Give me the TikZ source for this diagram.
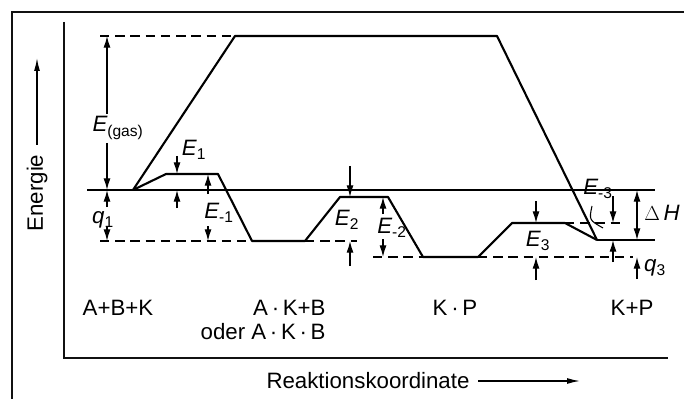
\documentclass[tikz,border=0pt]{standalone}
\usepackage{fontspec}
\setmainfont{Liberation Sans}
\usetikzlibrary{arrows.meta}

\begin{document}
\begin{tikzpicture}[x=0.03cm, y=-0.03cm,
    levelline/.style={line width=1.4pt},
    curve/.style={line width=1.8pt, line join=round},
    guide/.style={line width=1.3pt, dash pattern=on 8pt off 5pt},
    dim/.style={line width=1.1pt, -{Latex[length=10pt,width=6pt]}},
    lbl/.style={inner sep=1pt, font=\fontsize{19}{22}\selectfont}]
    % Define colours
    \definecolor{inkColour}{HTML}{111111}

    % Fix the page size
    \useasboundingbox (0,0) rectangle (684,399);

    % Draw frame and axes
    \draw[inkColour, line width=1.7pt] (12,399) -- (12,12) -- (684,12);
    \draw[inkColour, line width=1.7pt] (64,22) -- (64,358) -- (668,358);

    % Label the axes
    \node[lbl, rotate=90] (energy) at (37,193) {Energie};
    \coordinate (eTail) at (37,145);
    \coordinate (eTip) at (37,58);
    \draw[line width=1.1pt, -{Latex[length=11pt,width=5pt]}] (eTail) -- (eTip);
    \node[lbl] (coord) at (368,381) {Reaktionskoordinate};
    \coordinate (rTail) at (478,381);
    \coordinate (rTip) at (580,381);
    \draw[line width=1.1pt, -{Latex[length=11pt,width=5pt]}] (rTail) -- (rTip);

    % Define coordinates for the uncatalysed path
    \coordinate (S) at (133,190);
    \coordinate (G1) at (235,36);
    \coordinate (G2) at (497,36);
    \coordinate (F) at (597,240);

    % Define coordinates for the catalysed path
    \coordinate (T1a) at (166,174);
    \coordinate (T1b) at (218,174);
    \coordinate (I1a) at (252,241);
    \coordinate (I1b) at (305,241);
    \coordinate (T2a) at (340,197);
    \coordinate (T2b) at (388,197);
    \coordinate (I2a) at (423,257);
    \coordinate (I2b) at (478,257);
    \coordinate (T3a) at (512,223);
    \coordinate (T3b) at (565,223);

    % Draw the reference levels
    \draw[levelline] (87,190) -- (655,190);
    \draw[levelline] (F) -- (655,240);
    \draw[guide] (100,36) -- (G1);
    \draw[guide] (100,241) -- (I1a);
    \draw[guide] (I1b) -- (357,241);
    \draw[guide] (373,257) -- (I2a);
    \draw[guide] (I2b) -- (633,257);
    \draw[guide] (T3b) -- (622,223);

    % Draw both reaction paths
    \draw[curve] (S) -- (G1) -- (G2) -- (F);
    \draw[curve] (S) -- (T1a) -- (T1b) -- (I1a) -- (I1b) -- (T2a) -- (T2b)
        -- (I2a) -- (I2b) -- (T3a) -- (T3b) -- (F);

    % Draw the energy arrows
    \draw[dim] (107,114) -- (107,36);
    \draw[dim] (107,143) -- (107,190);
    \draw[dim] (107,207) -- (107,190);
    \draw[dim] (107,227) -- (107,241);
    \draw[dim] (177,156) -- (177,174);
    \draw[dim] (177,208) -- (177,190);
    \draw[dim] (208,194) -- (208,174);
    \draw[dim] (208,226) -- (208,241);
    \draw[dim] (350,166) -- (350,197);
    \draw[dim] (350,266) -- (350,241);
    \draw[dim] (383,214) -- (383,197);
    \draw[dim] (383,239) -- (383,257);
    \draw[dim] (536,201) -- (536,223);
    \draw[dim] (536,280) -- (536,257);
    \draw[dim] (613,196) -- (613,223);
    \draw[dim] (613,262) -- (613,240);
    \draw[dim] (637,213) -- (637,190);
    \draw[dim] (637,213) -- (637,240);
    \draw[dim] (637,279) -- (637,257);

    % Label the energies
    \node[lbl] (egas) at (118,128) {\itshape E\textsubscript{\upshape(gas)}};
    \node[lbl] (q1) at (103,220) {\itshape q\textsubscript{\upshape 1}};
    \node[lbl] (e1) at (194,150) {\itshape E\textsubscript{\upshape 1}};
    \node[lbl] (em1) at (219,213) {\itshape E\textsubscript{\upshape -1}};
    \node[lbl] (e2) at (347,220) {\itshape E\textsubscript{\upshape 2}};
    \node[lbl] (em2) at (392,228) {\itshape E\textsubscript{\upshape -2}};
    \node[lbl] (e3) at (538,241) {\itshape E\textsubscript{\upshape 3}};
    \node[lbl] (em3) at (598,189) {\itshape E\textsubscript{\upshape -3}};
    \node[lbl] (dH) at (662,213) {$\Delta$\,\itshape H};
    \node[lbl] (q3) at (655,268) {\itshape q\textsubscript{\upshape 3}};
    \draw[line width=0.9pt] (592,206) .. controls (589,220) .. (603,228);

    % Name the species
    \node[lbl] (abk) at (118,308) {A+B+K};
    \node[lbl, anchor=east] (akb) at (327,308) {A\,·\,K+B};
    \node[lbl, anchor=east] (akbOder) at (327,332) {oder A\,·\,K\,·\,B};
    \node[lbl] (kp) at (455,308) {K\,·\,P};
    \node[lbl] (kplus) at (632,308) {K+P};
\end{tikzpicture}
\end{document}
